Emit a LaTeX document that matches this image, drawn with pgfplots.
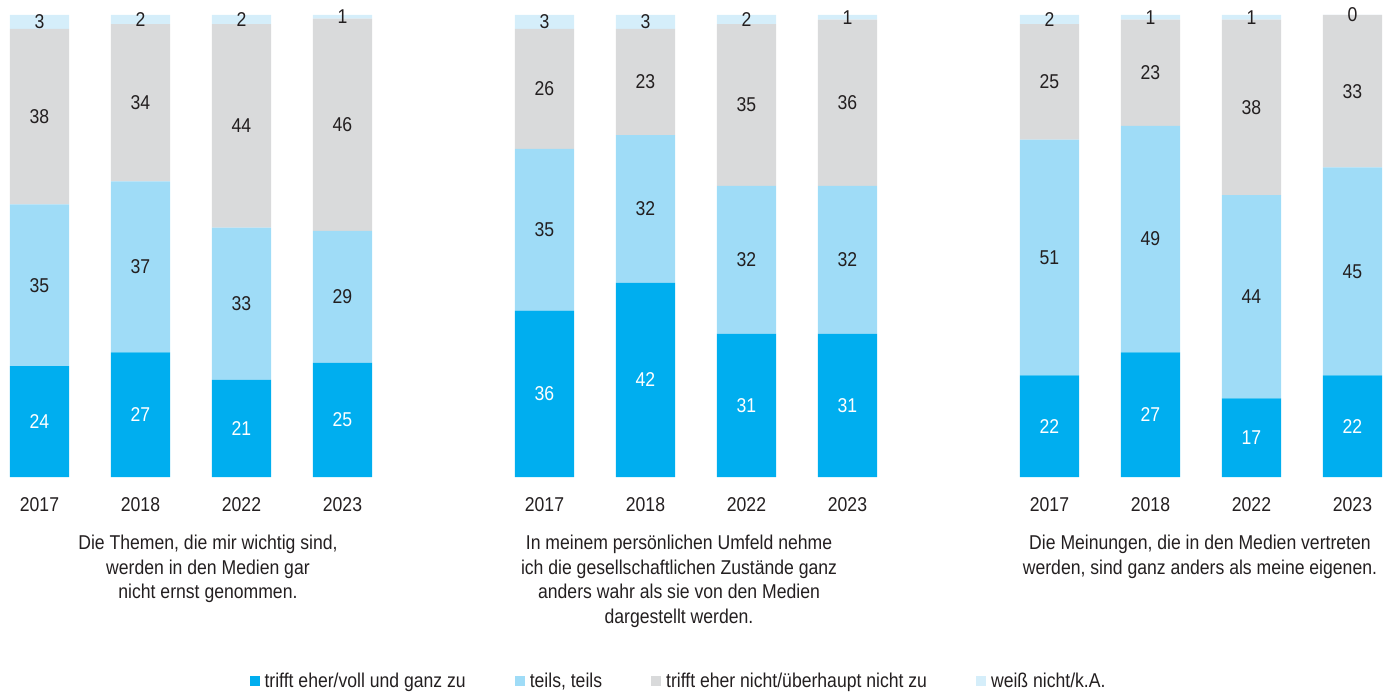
\documentclass[border=0pt]{standalone}
\usepackage{fontspec}
\setmainfont{Liberation Sans}[FakeStretch=0.88]
\usepackage{pgfplots}
\pgfplotsset{compat=1.18}
\usepackage{pgfplotstable}
\definecolor{cA}{HTML}{00AEEF}
\definecolor{cB}{HTML}{9FDCF7}
\definecolor{cC}{HTML}{D9DADB}
\definecolor{cD}{HTML}{D5EEFA}
\definecolor{txt}{HTML}{231F20}
\newcommand{\fs}{\fontsize{20}{24.5}\selectfont}

\pgfplotstableread{
x y lab
0 24 24
1 27 27
2 21 21
3 24.7 25
5 36 36
6 42 42
7 31 31
8 31 31
10 22 22
11 27 27
12 17 17
13 22 22
}\dA
\pgfplotstableread{
x y lab
0 35 35
1 37 37
2 33 33
3 28.6 29
5 35 35
6 32 32
7 32 32
8 32 32
10 51 51
11 49 49
12 44 44
13 45 45
}\dB
\pgfplotstableread{
x y lab
0 38 38
1 34 34
2 44 44
3 45.9 46
5 26 26
6 23 23
7 35 35
8 36 36
10 25 25
11 23 23
12 38 38
13 33 33
}\dC
\pgfplotstableread{
x y lab
0 3 3
1 2 2
2 2 2
3 0.8 1
5 3 3
6 3 3
7 2 2
8 1 1
10 2 2
11 1 1
12 1 1
13 0.001 0
}\dD

\begin{document}
\begin{tikzpicture}
\useasboundingbox (0,-214pt) rectangle (1394pt,477pt);
\begin{axis}[
  at={(0,0)}, anchor=south west,
  scale only axis, width=1394pt, height=462pt,
  xmin=-0.391, xmax=13.411, ymin=0, ymax=100,
  ybar stacked, bar width=0.585,
  clip=false,
  axis line style={draw=none}, tick style={draw=none},
  ytick=\empty,
  xtick={0,1,2,3,5,6,7,8,10,11,12,13},
  xticklabels={2017,2018,2022,2023,2017,2018,2022,2023,2017,2018,2022,2023},
  xticklabel style={font=\fs, text=txt, anchor=base, yshift=-34pt},
  /pgf/number format/assume math mode=true,
  nodes near coords,
  point meta=explicit symbolic,
  every node near coord/.append style={font=\fs, text=txt, anchor=center},
  legend columns=4,
  legend style={at={(0.4864,-0.4416)}, anchor=center, draw=none, fill=none, font=\fs, text=txt,
    /tikz/every even column/.append style={column sep=48pt},
    /tikz/every odd column/.append style={column sep=4pt},
    nodes={inner sep=1pt}},
  legend image code/.code={\fill[#1,draw=none] (0pt,-5pt) rectangle (10pt,5pt);},
]
\addplot[fill=cA, draw=none, every node near coord/.append style={text=white}] table[x=x,y=y,meta=lab]{\dA};
\addlegendentry{trifft eher/voll und ganz zu}
\addplot[fill=cB, draw=none] table[x=x,y=y,meta=lab]{\dB};
\addlegendentry{teils, teils}
\addplot[fill=cC, draw=none] table[x=x,y=y,meta=lab]{\dC};
\addlegendentry{trifft eher nicht/überhaupt nicht zu}
\addplot[fill=cD, draw=none] table[x=x,y=y,meta=lab]{\dD};
\addlegendentry{weiß nicht/k.A.}
\node[font=\fs, text=txt, align=center, anchor=north, inner sep=0pt] at (axis cs:1.668,0) [yshift=-58pt]
  {Die Themen, die mir wichtig sind,\\werden in den Medien gar\\nicht ernst genommen.};
\node[font=\fs, text=txt, align=center, anchor=north, inner sep=0pt] at (axis cs:6.332,0) [yshift=-58pt]
  {In meinem persönlichen Umfeld nehme\\ich die gesellschaftlichen Zustände ganz\\anders wahr als sie von den Medien\\dargestellt werden.};
\node[font=\fs, text=txt, align=center, anchor=north, inner sep=0pt] at (axis cs:11.49,0) [yshift=-58pt]
  {Die Meinungen, die in den Medien vertreten\\werden, sind ganz anders als meine eigenen.};
\end{axis}
\end{tikzpicture}
\end{document}
